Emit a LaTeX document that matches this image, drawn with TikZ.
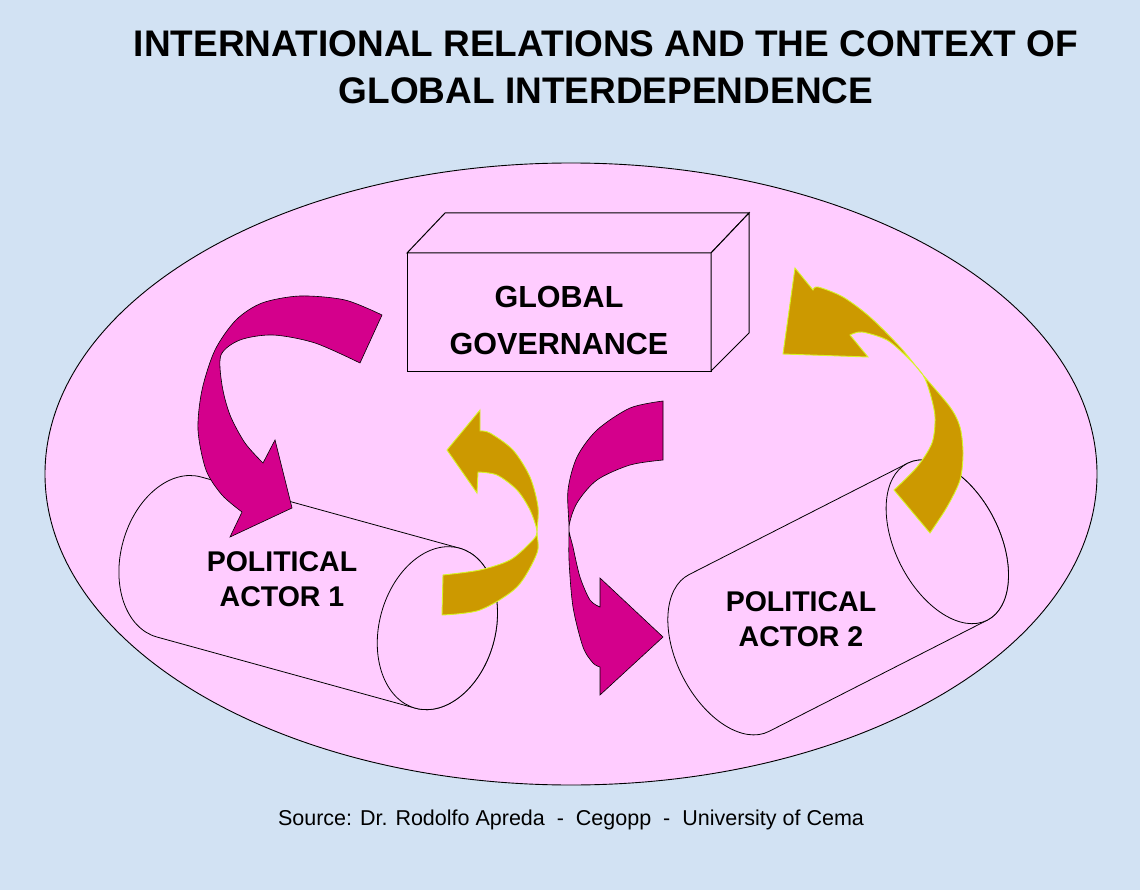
\documentclass[tikz,border=0pt]{standalone}
\usepackage{fontspec}
\setmainfont{Liberation Sans}
\usetikzlibrary{positioning}

\definecolor{skyback}{RGB}{210,226,243}
\definecolor{rimpink}{RGB}{255,204,255}
\definecolor{govmagenta}{RGB}{212,0,140}
\definecolor{actorgold}{RGB}{204,153,0}
\definecolor{goldrim}{RGB}{215,245,40}

\tikzset{
  rim/.style = {fill = rimpink, draw = black, line width = 0.9pt},
  govface/.style = {fill = rimpink, draw = black, line width = 1pt},
  actorbody/.style = {fill = rimpink, draw = black, line width = 0.8pt},
  pinkarrow/.style = {fill = govmagenta, draw = black, line width = 0.6pt},
  goldarrow/.style = {fill = actorgold, draw = goldrim, line width = 0.9pt},
  bigtitle/.style = {align = center, font = \fontsize{37}{46.6}\selectfont\bfseries},
  govtext/.style = {align = center, font = \fontsize{30.5}{47}\selectfont\bfseries},
  actortext/.style = {align = center, font = \fontsize{28.5}{35}\selectfont\bfseries},
  sourcetext/.style = {font = \fontsize{21.5}{26}\selectfont}
}

\newcommand\barrel[3]{
  \filldraw[actorbody] (0, -#2) arc[start angle = 270, end angle = 90,
    x radius = #1, y radius = #2] -- (#3, #2)
    arc[start angle = 90, end angle = -90, x radius = #1, y radius = #2] -- cycle;
  \draw[actorbody] (#3, 0) ellipse [x radius = #1, y radius = #2];}

\begin{document}
\begin{tikzpicture}[x = 1pt, y = -1pt]
  \useasboundingbox (0, 0) rectangle (1140, 890);
  \fill[skyback] (0, 0) rectangle (1140, 890);

  \node[bigtitle] (title) at (606, 67.5)
    {INTERNATIONAL RELATIONS AND THE CONTEXT OF\\GLOBAL INTERDEPENDENCE};

  \filldraw[rim] (571, 474) ellipse [x radius = 526, y radius = 311];

  % the box
  \node[govface, minimum width = 304pt, minimum height = 118pt, outer sep = 0pt]
    (govfront) at (559, 312) {};
  \filldraw[govface] (govfront.north west) -- ++(38, -40) -- ++(304, 0)
    -- (govfront.north east) -- cycle;
  \filldraw[govface] (govfront.north east) -- ++(38, -40) -- ++(0, 120)
    -- (govfront.south east) -- cycle;
  \node[govtext] (gov) at (559, 320.5) {GLOBAL\\GOVERNANCE};

  \begin{scope}[shift = {(179, 557)}, rotate = -15.4]
    \barrel{58}{83}{268}
  \end{scope}

  \begin{scope}[shift = {(729, 653)}, rotate = 27]
    \barrel{52}{88}{245}
  \end{scope}

  \node[actortext] (actorone) at (282, 579) {POLITICAL\\ACTOR 1};
  \node[actortext] (actortwo) at (801, 619) {POLITICAL\\ACTOR 2};

  % governance down to actor 1
  \filldraw[pinkarrow] plot[smooth] coordinates {(382, 315) (345, 300) (300, 296)
      (262, 303) (236, 320) (215, 350) (202, 390) (198, 430) (206, 470) (222, 495)
      (242, 512)}
    -- (230, 537) -- (292, 508) -- (275, 440) -- (263, 463)
    -- plot[smooth] coordinates {(263, 463) (245, 443) (230, 415) (222, 385)
      (221, 355) (240, 340) (273, 335) (315, 343) (360, 363)}
    -- cycle;

  % actor 1 back up
  \filldraw[goldarrow] plot[smooth] coordinates {(442, 615) (480, 610) (517, 587)
      (537, 553) (537, 532) (538, 507) (530, 477) (513, 450) (490, 433) (480, 431)}
    -- (480, 410) -- (447, 450) -- (477, 493) -- (478, 472)
    -- plot[smooth] coordinates {(478, 472) (497, 475) (517, 490) (530, 510)
      (537, 532) (530, 543) (510, 560) (480, 570) (443, 575)}
    -- cycle;

  % governance down to actor 2
  \filldraw[pinkarrow] plot[smooth] coordinates {(663, 401) (630, 408) (597, 430)
      (577, 457) (568, 490) (569, 527) (569, 560) (573, 607) (583, 647) (593, 663)
      (600, 667)}
    -- (600, 695) -- (663, 637) -- (600, 578) -- (600, 607)
    -- plot[smooth] coordinates {(600, 607) (590, 600) (580, 577) (573, 547)
      (569, 527) (577, 503) (597, 480) (630, 465) (663, 460)}
    -- cycle;

  % actor 2 back up
  \filldraw[goldarrow] plot[smooth] coordinates {(930, 533) (947, 507) (960, 480)
      (963, 453) (960, 427) (950, 407) (923, 375) (900, 347) (870, 317) (843, 297)
      (818, 287) (813, 290)}
    -- (795, 268) -- (783, 354) -- (868, 357) -- (850, 335)
    -- plot[smooth] coordinates {(850, 335) (862, 332) (887, 340) (907, 357)
      (923, 375) (930, 393) (935, 417) (932, 443) (917, 467) (894, 490)}
    -- cycle;

  \node[sourcetext, anchor = base] (source) at (571, 825)
    {Source: Dr. Rodolfo Apreda~~-~~Cegopp~~-~~University of Cema};
\end{tikzpicture}
\end{document}
